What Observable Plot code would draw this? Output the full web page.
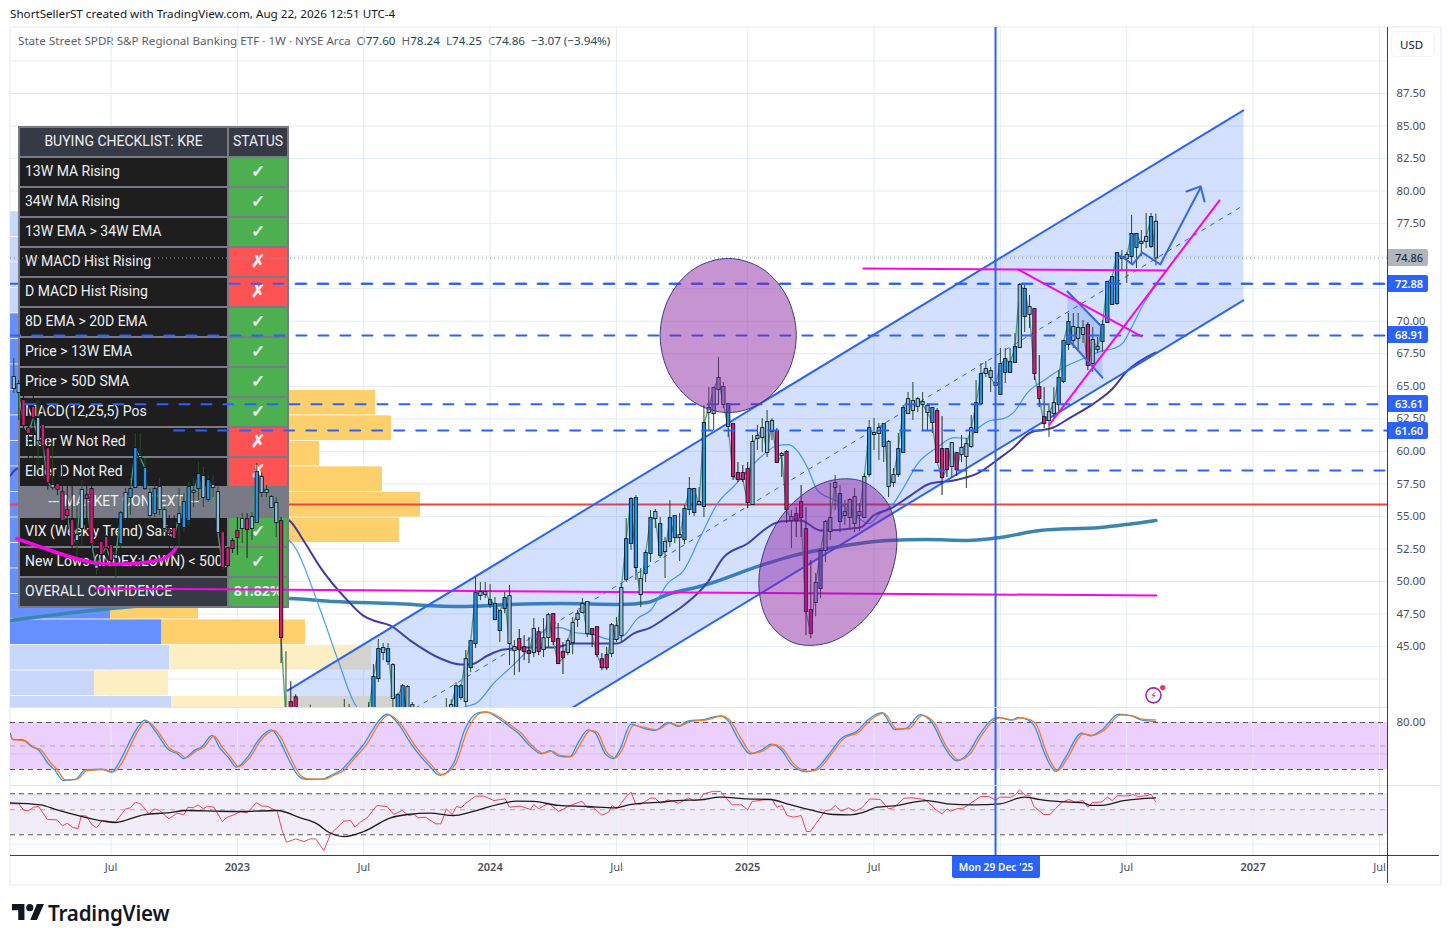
<!DOCTYPE html>
<html>
<head>
<meta charset="utf-8">
<script src="https://cdn.jsdelivr.net/npm/d3@7"></script>
<script src="https://cdn.jsdelivr.net/npm/@observablehq/plot@0.6"></script>
<style>
html,body{margin:0;padding:0;background:#fff;overflow:hidden}
#page{position:relative;width:1449px;height:943px;font-family:"Noto Sans",sans-serif;color:#131722;overflow:hidden}
.abs{position:absolute;white-space:pre}
.cell{position:absolute;height:28px;line-height:26.5px;font-family:Roboto,sans-serif;font-size:14px;color:#eceff4;box-sizing:border-box;white-space:pre}
.tag{position:absolute;left:1388px;width:40px;height:17px;line-height:17px;padding-left:2px;box-sizing:border-box;text-align:center;font-size:11px;font-weight:600;border-radius:0 2px 2px 0}
</style>
</head>
<body>
<div id="page"></div>
<script>
// ---------- weekly candles (price, USD) ----------
const opens=[
65.67,65.13,63.9,61.75,63.37,62.52,62,60.2,57.37,57.45,
56.83,55.45,54.68,53.15,54.07,56.6,57.07,51.2,53,53.38,
52.76,51.76,52.91,54.84,56.45,57.22,59.6,57.14,56.76,55.22,
55.53,55.45,53.91,54.07,54.45,54.15,54.68,56.91,57.14,58.07,
56.3,57.37,56.83,53.76,52.53,53.07,53.84,54.07,54.76,54.07,
54.53,57.99,56.99,56.45,56,54.61,40,40.69,41.07,38.6,
38.4,38.9,38.1,37.6,37,37.8,38.6,38.4,39.1,38.8,
38.5,39.4,39.2,39.3,40.31,42.54,44.54,43.85,43.54,39.92,
39.92,41.85,40.46,39.3,38.9,39.2,39,38.7,39.3,39.5,
39.9,40.31,41.08,40.77,43.38,45.23,48.92,49,48.23,47.07,
46.23,47.92,48.84,44.69,45.54,44.92,44.62,44.54,46.07,44.77,
45.69,47.46,45.54,44.54,44.54,45.3,47.07,47.61,48.38,46.31,
46.46,43.99,44.31,44.46,46.53,45.84,50.15,52.91,56.37,50.15,
50.61,52.15,55.3,54.38,53,53.07,54.99,53.53,53.22,55.53,
55.3,56.07,55.76,62.98,62.9,64.75,64.9,63.6,62.06,58.3,
58.3,58.6,55.91,60.99,61.06,62.21,61.52,61.52,59.76,59.91,
54.91,55.14,56.07,53.99,47.77,48.38,49.46,52.38,53.84,57.22,
56.68,55.07,54.91,56.45,55.07,54.91,58.22,61.37,61.37,60.37,
60.68,57.6,58.22,59.91,62.9,63.83,63.45,63.75,63.45,63.29,
63.06,60.14,60.14,58.83,59.83,59.76,59.6,60.37,61.45,63.67,
65.98,66.13,65.21,64.37,66.06,66.06,66.83,67.98,70.36,71.05,
70.9,64.9,62.6,62.37,62.9,63.6,65.37,68.21,69.52,68.67,
68.98,69.67,66.75,67.83,68.44,69.9,71.29,71.36,74.9,74.82,
74.97,75.67,76.05,76.13,75.74,77.6];
const closes=[
64.83,64.52,61.98,61.37,62.6,60.83,60.45,57.6,57.2,57.07,
54.68,55.07,52.76,53.53,56.99,56.37,52.9,51,52.07,52.61,
51.61,52,55.22,56.76,57.07,60.22,59.52,58.68,55.07,57.07,
57.22,54.07,53.68,53.3,55.14,56.07,57.22,56.83,58.22,56.45,
57.76,57.22,53.76,51.07,51.22,52.53,53.38,54.76,53.99,54.91,
58.37,56.83,56.83,55.68,54.53,45.69,39.3,39.7,38.55,38.2,
38.9,38.1,37.6,37,37.8,38.6,38.4,39.1,38.8,38.5,
39.4,39.2,39.8,39.9,42.62,44.77,44.85,44.77,41,41.23,
41.92,39.69,39.3,38.9,39.2,39,38.7,39.3,39.5,39.9,
40.47,41.92,41.92,44,45.38,49.07,49.15,49.15,48.53,48.23,
47.69,48.69,45.23,44.92,44.77,44.62,44.46,46.31,44.62,45.61,
47.38,45.38,43.69,44.15,45.38,46.77,47.46,48.23,46,45.92,
44.38,43.38,43.38,46.61,45.54,49.46,53.22,56.3,51.07,48.99,
52.15,54.84,54.84,52,52.3,54.84,53.38,53.38,55.53,57.07,
57.07,55.91,62.14,63.29,64.83,65.6,63.6,61.91,58.06,57.83,
57.83,56.07,60.68,61.14,61.75,59.91,62.29,59.14,59.68,55.53,
54.68,54.68,54.91,47.69,46,49.84,52.3,54.53,54.84,57.53,
54.61,55.3,56.22,54.45,55.3,57.99,61.75,61.29,61.75,62.06,
57.3,58.14,60.14,63.29,63.98,63.14,63.98,63.6,62.98,62.21,
59.14,57.99,58.6,60.6,58.6,60.22,60.52,61.75,63.67,65.9,
66.29,65.67,65.06,66.67,67.06,66.83,67.98,72.74,72.44,70.52,
65.98,64.06,62.14,62.98,63.67,65.6,68.44,69.9,68.52,69.44,
69.44,66.6,68.52,67.98,69.67,72.98,73.36,75.2,74.82,75.05,
76.67,76.67,75.97,76.43,77.97,74.86];
const highs=[
67.13,65.44,64.29,63.9,64.3,63.9,63.9,61,60.75,58.53,
58.9,57.76,57.76,55.84,57.76,57.37,57.76,51.84,53.15,53.53,
52.91,52.38,55.38,57.14,57.91,61.37,61.37,59.45,57.14,57.37,
57.91,55.68,55.07,55.07,57.14,56.76,57.6,57.91,59.14,58.76,
58.14,58.14,57.22,53.91,52.61,53.3,54.91,55.22,55.22,55.3,
59.07,58.37,57.37,56.6,56.45,54.91,44.61,42.3,41.3,39.4,
39.6,40.5,39.5,39.2,39.6,39.8,39.7,39.9,40.93,40.54,
39.9,39.9,39.8,40.69,43.62,45.54,45.23,45.23,43.69,41.38,
42.08,42,40.7,39.6,39.9,39.7,39.8,40,40.1,41,
40.9,42.23,42.08,44.69,45.46,50.3,49.92,49.92,49.76,48.77,
47.77,49.15,49.69,45.46,46.31,45.84,45.69,47.15,46.46,47.15,
47.53,47.53,46.77,45.31,45.61,47.23,47.77,48.69,48.38,46.38,
46.46,44.46,44.92,46.77,47.23,49.84,54.84,56.45,56.6,50.99,
52.38,55.45,55.53,54.91,53.38,56.22,55.07,55.22,55.84,57.99,
57.14,57.22,63.52,64.9,64.9,67.21,65.29,63.67,62.14,59.14,
58.91,59.14,61.22,61.98,62.52,63.14,62.52,61.75,59.91,60.06,
55.45,55.68,57.37,55.68,51.61,50.61,52.53,54.68,57.53,58.14,
57.37,56.22,56.37,57.14,56,58.3,62.37,62.52,62.14,62.14,
60.83,58.68,61.37,63.52,64.52,65.29,64.14,64.52,63.67,63.37,
63.29,62.68,60.22,60.68,59.91,61.22,60.99,62.75,65.44,66.75,
66.9,66.44,65.6,67.9,67.9,67.9,69.06,72.9,72.74,71.98,
70.98,67.36,64.9,63.67,64.9,66.21,68.52,70.59,70.59,70.59,
70.06,69.9,69.52,68.75,70.06,73.06,73.44,75.28,75.43,75.28,
78.13,76.75,76.97,78.28,78.28,78.24];
const lows=[
64.44,62.37,60.83,58.91,58.5,58.5,59.3,57,57,56.6,
54.53,53.9,52,51.6,52.76,53.9,52.53,50.46,50.84,50.69,
51,50.07,52.53,54.68,55.07,57.14,59.07,56.99,54.68,54.91,
55.07,53.76,52.38,52.53,52.53,53.76,54.3,55.68,56.22,55.68,
56.07,56.45,53.68,51,51.07,52.15,52,52.91,51.76,53.15,
54.45,56.45,56.45,55.6,53.38,43.69,38.5,38.55,37.5,37.4,
37.9,37.6,37,35.5,35.9,37.4,37.8,37.9,38.2,38,
38.1,38.6,38.7,38.2,39.9,42.23,43.92,43.54,40.31,39.3,
39.16,38.93,38.6,38.2,38.4,38.5,38.1,38.4,38.9,39.1,
39.5,39.93,40.85,40.39,43,44.85,48.53,48.69,47.92,46.99,
45.31,47.53,43.54,42.77,43,43.92,43.69,44.15,44.3,44.15,
44.92,45.08,43.69,42.85,44.3,44.38,46.46,47.53,45.69,44.92,
44.15,43.15,43.15,44.15,45.31,45.31,49.92,52.38,50.07,47.99,
49.92,51.46,54.07,51.76,50.23,52.61,52.91,51.53,52.84,55.07,
54.99,55.84,54.91,61.6,61.6,63.52,63.29,61.06,57.76,57.6,
57.6,55.6,55.84,60.06,59.91,59.52,60.83,59.07,57.99,54.45,
52.53,53.38,53.38,45.84,45.61,47.3,48.69,51.46,53.15,55.45,
53.76,54.3,53.99,53.76,53.84,54.84,57.99,60.06,59.3,59.14,
56.45,57.22,57.99,59.83,62.9,62.37,62.98,61.6,61.6,61.37,
59.07,56.6,57.99,57.99,58.06,59.14,57.14,60.22,61.37,63.67,
65.67,64.52,64.29,64.29,65.21,66.06,66.75,67.9,69.13,69.44,
65.44,63.37,61.75,61.06,62.52,62.98,65.21,67.75,67.9,67.75,
68.29,66.21,66.06,67.52,67.6,69.83,71.21,71.21,73.9,72.9,
74.28,74.05,74.97,75.59,75.59,74.25];
const impulse=("nnpppnppnp"+"pppnnppnpp"+"pnbnbbnbnb"+"nnppnbbnbn"+"bnnppppnpn"+"bnnnnpnppn"+"nnppnbnnnn"+"bnnbbbnbnb"+
"bnnnnnnnnn"+"nbbnbbnnbb"+"bbnnpppnpn"+"npppnnnnnp"+"pppnnnbbbn"+"bbnbnbbnbb"+"bnbnnnnbpp"+"ppnnnnnpnp"+
"nppppnbnnn"+"bnnnnnbnnb"+"nnbbnnnnnb"+"pppnpnnnbb"+"nnnbbbbnbn"+"pppnnbbbnn"+"npnnbbbbnn"+"bbnnbn").split("");

// ---------- moving averages: bar index, price ----------
const fastMaBar=[-0.7,1,30,56.7,63.1,66.6,70.7,85.7,92.5,95.4,98.7,102.2,105.7,109.8,112.5,115.2,119.3,122.8,125.5,128.3,131,134.5,137.8,141.3,144.8,148.1,153.6,157.1,159.4,161.5,163.3,165.4,169.5,173.6,175.9,178.3,181,183.1,186,190,193.4,196.2,198.3,201,203.6,205.7,208.6,211.9,216,220.1,224.2,226.3,228.3,230.4,232.5,235];
const fastMaVal=[63.6,64.4,57,53.15,47.77,44.07,40.31,37.7,40.31,40.7,42.16,43.38,44.69,46.38,46.46,46.08,45.92,45.54,45.84,47.15,47.77,49.84,50.84,53.45,55.99,57.3,59.53,60.45,60.52,59.91,58.76,56.99,56.14,54.91,54.45,55.22,55.99,57.22,59.06,60.29,61.06,60.99,61.75,62.37,62.52,62.98,64.52,65.44,66.44,67.13,67.75,67.9,68.36,69.82,71.36,72.74];
const midMaBar=[-0.7,0.8,30,56.7,59.6,63.1,68.7,71.9,74,77.5,81.6,87.8,91.9,94,97.5,100.8,105.7,111.1,115.2,119.3,124.2,127.5,131,134.5,137.8,142.7,146,151,155.7,157.8,161.9,166,174.2,176.9,180.4,184.5,188.6,193.4,198.3,203,205.5,209.2,213.9,217.4,222.2,225.7,229.2,235];
const midMaVal=[58.14,58.68,58,54.68,53.15,51.07,48.53,47.38,47,46.61,45.46,44.08,43.62,43.62,44.31,44.77,44.92,44.92,45.23,45.23,45.23,46,46.46,47.3,48.15,49.92,51.84,52.92,54.3,54.61,54.68,53.92,54.15,55.07,55.6,56.6,57.53,57.76,58.3,59.52,60.22,61.45,61.83,62.6,63.67,64.67,66.21,67.6];
const slowMaBar=[-0.7,19.9,56.7,65.8,78.1,91.9,102.2,112.5,124.8,130.3,134.5,141.9,153.6,160.4,168.7,179.8,188,196.2,203,211.2,223.6,235];
const slowMaVal=[47,47.92,48.69,48.46,48.3,48.07,48.23,48.3,48.23,48.38,49,49.69,51.22,51.99,52.61,53.15,53.22,53.15,53.38,53.92,54.15,54.68];

// ---------- volume profile rows (price bin edges, volume units) ----------
const vpBinLow=[76.51,74.55,72.59,70.63,68.67,66.71,64.75,62.79,60.83,58.87,56.91,54.95,52.99,51.03,49.07,47.11,45.15,43.19,41.23,39.27];
const vpBinSize=1.9;
const vpUp=[60,90,100,110,130,150,140,180,190,140,180,200,190,150,120,100,151,159,84,161];
const vpTotal=[100,160,190,210,240,260,270,365,381,309,372,410,389,270,260,188,295,361,158,388];
const vpInValueArea=[0,0,0,0,1,1,1,1,1,1,1,1,1,1,1,1,1,0,0,0];

// ---------- drawings: bar index, price ----------
const channelBar=[56.3,253], channelUpper=[41.62,86.2], channelMiddle=[34.3,78.9], channelLower=[27.01,71.6];
const levels=[72.88,68.91,63.61,61.60,58.53], levelStartBar=[44.4,-0.7,2.4,33,184.9];
const taggedLevels=[72.88,68.91,63.61,61.60];
const lastClose=74.86, redLevel=55.91, lineEndBar=282.86, crossBar=202;
const topLineBar=[174.8,237], topLineVal=[74.05,73.9];
const wedgeBar=[206.7,232], wedgeVal=[73.97,68.83];
const riseBar=[213.1,248.1], riseVal=[62.06,79.28];
const longLineBar=[16.8,235.1], longLineVal=[49.46,48.92];
const arcBar=[0.6,7.6,16.4,24.6,30.8,33.3], arcVal=[53.3,52.38,51.45,51.38,51.76,52.53];
const arrowBar=[227.7,230.2,232.2,235.9,244.2], arrowVal=[75.05,74.36,75.28,74.36,80.28];
const arrowHeadBar=[241.3,244.2,245], arrowHeadVal=[79.97,80.36,79.2];
const flagBar=[216.8,224,224,216.8], flagVal=[72.28,69.52,65.67,68.67];
const circleABar=[161,159.1,154,147,140,134.9,133,134.9,140,147,154,159.1];
const circleAVal=[68.9,71.86,74.03,74.82,74.03,71.86,68.9,65.94,63.77,62.98,63.77,65.94];
const circleBBar=[181.7,179.8,174.6,167.5,160.4,155.2,153.3,155.2,160.4,167.5,174.6,179.8];
const circleBVal=[53.12,49.8,46.93,45.28,45.3,46.97,49.86,53.18,56.06,57.7,57.69,56.01];
const iconBar=234.5, iconVal=41.25, iconDotBar=236.4, iconDotVal=41.85;

// ---------- stochastic panel ----------
const stochDBar=[-0.7,0,2.1,4.1,5.5,7.5,8.9,10.6,13,15.1,17.1,18.5,20.6,21.9,23.7,25.4,27.4,29.5,32.2,34.3,35.3,37.7,39.1,41.2,42.9,44.6,46.3,48.7,50.8,53.5,54.9,56.9,59,60.4,63.8,65.8,67.9,70.3,72.7,75.4,77.2,79.6,82.3,85.7,88.1,90.9,93.3,96,97.4,100.1,102.8,104.2,106.3,109,110.7,112.4,114.8,116.6,118.6,120,122,123.8,125.1,127.5,129.6,132.3,135.1,137.1,139.2,142.6,145.7,147.4,149.5,151.9,154.3,156.3,158.4,160.5,163.5,165.3,168,170.7,173.8,176.2,179,181.7,184.1,186.9,189.3,192,194.4,196.8,198.9,201.6,203,205.7,207.1,209.2,210.5,212.6,214.8,216.7,220.1,221.9,224.3,227.7,230.4,232.5,234.9];
const stochDVal=[63.4,57.9,57,48.5,45.5,29.3,20,6.8,7.6,18.7,19.5,20,17.4,25.1,46.4,67.7,81.7,69.8,46.4,40,34.9,44.2,48.5,62.5,48.5,35.7,23.8,36.6,57,69.8,61.3,35.7,12.3,8.1,7.6,12.3,18.7,35.7,52.8,80.4,89.8,78.3,52.8,27.2,13.6,27.2,69.8,91.9,93.2,86,74,67.7,52.8,40.8,43.4,37.9,36.6,52.8,69.8,67.7,42.1,34.9,44.2,76.2,74,70.6,79.1,75.7,81.3,83.4,88.1,82.6,61.3,40.8,44.2,51.9,45.1,27.2,17.8,19.5,37.9,59.1,67.7,82.6,91.9,71.9,71.9,89,80.4,48.5,32.3,40,61.3,82.6,86,83.4,86,83.4,76.2,40,18.7,33.6,65.5,63.4,69.8,89.8,88.1,83.8,83.4];
const stochKBar=[-0.7,-0.3,1.7,3.7,5.1,7,8.4,10.2,12.6,14.7,16.7,18,20.2,21.4,23.2,25,27,29,31.8,33.8,34.9,37.3,38.7,40.8,42.4,44.2,45.8,48.3,50.4,53,54.4,56.4,58.6,60,63.4,65.4,67.4,69.9,72.2,75,76.8,79.2,81.8,85.2,87.7,90.5,92.8,95.6,97,99.7,102.4,103.7,105.9,108.6,110.3,112,114.4,116.1,118.2,119.6,121.6,123.4,124.7,127,129.2,131.9,134.7,136.7,138.8,142.2,145.3,147,149,151.5,153.9,155.9,158,160,163.1,164.9,167.6,170.3,173.4,175.8,178.6,181.3,183.6,186.5,188.9,191.6,194,196.4,198.5,201.2,202.6,205.3,206.7,208.8,210,212.2,214.4,216.3,219.7,221.5,223.9,227.3,230,232.1,234.9];
const stochKVal=[66,58.5,58,49,45,28,19.5,6,7,19.5,20,20.5,16.5,26,47.5,69,83,70,45.5,39.5,34,45,49,63.5,47.5,35,23,37.5,58,70.5,60.5,35,11.5,7.5,7.5,13,19.5,36.5,54,81.5,90.5,77.5,52,26.5,12.5,28,71,92.5,93.5,85.5,73,67,52,40,44,37.5,36,54,70.5,67,41,34,45.5,78,73.5,70,80,75,82,84,88.5,82,60,40,45,52.5,44.5,26.5,17,20,38.5,60,68.5,83.5,92.5,71,72.5,90,80,47.5,31,41,62.5,83.5,86.5,83,86.5,83,75.5,39,17.5,34.5,66.5,63,70.5,90.5,88.5,83,81.5];
const stochBand=[20,80], stochMid=50, stochGrid=40;

// ---------- RSI panel ----------
const rsiBar=[-0.7,1,2.1,3.1,4.1,5.1,6.9,8.9,10,11,12,13.2,13.9,15,15.9,17,18.2,20.9,23,24,25,26.1,27.8,29,30,31.9,33.6,35,35.8,36.9,37.9,39,39.9,41.2,42.9,43.9,45.3,46.6,48,49.9,51.1,52.1,54.2,55.2,56.1,58,59.7,61,62.1,63.8,65.2,67.9,69.3,70.2,71.3,72.7,74.7,76.8,78.2,79.9,81.3,82.3,83.3,84.7,86.8,87.9,89,90.2,91.1,92,93.3,95,96.7,98.8,100.1,101.1,102,104.2,106.3,107,108,110,112.1,114.5,116.9,117.9,119.3,121,122.4,123.1,124.1,126.2,127,127.9,128.9,131,132,133,134.7,136.8,138.8,139.9,141.2,141.9,144,145.4,147.8,149.8,151,151.9,154.3,156,157,158.1,159.1,160.5,162,163.1,163.9,167,168,169,170.2,171.8,173,174.5,176.1,178.3,180,181,183.2,184.8,187.5,189.9,191,192,192.8,194,195.4,198.9,200.6,202,203,205.1,206.1,206.9,208.1,209,209.9,211.9,213.2,214.3,215.7,217.1,218.4,220,221,221.9,223.9,225,226,227,229.4,230.2,231.3,233.2,234,234.9];
const rsiVal=[60.2,60.2,53.7,53.7,56.9,57.6,44.9,44.6,38.7,41.3,37.4,35.8,48.8,48.2,40.7,36.8,43.9,42.3,55.3,56.3,61.8,60.2,50.4,55.3,53.7,45.6,51.1,49.5,56.9,56.3,59.2,55.3,57.9,56.9,42.9,47.2,49.5,52.7,51.4,61.2,57.9,57.9,53,34.2,22.8,26,23.4,26,26,14.7,30.9,43.3,43.9,37.4,42.3,46.5,58.6,57.6,49.8,53.7,48.8,49.8,46.5,47.2,40.7,40.7,55.3,49.8,57.6,56.3,61.8,67.7,67.7,63.4,64.4,65,56.9,57.9,54.7,59.5,55.3,60.8,52.7,58.6,62.8,56.9,56.3,49.1,52.1,58.6,55.3,68.3,71.6,60.8,59.5,65.7,65.7,60.8,64.1,60.8,66,63.4,64.4,69.9,72.5,72.2,59.2,59.2,54.3,62.5,64.1,64.7,56.9,58.6,48.8,47.2,48.8,33.2,33.2,53.7,54.3,58.6,53,56.3,53,56.3,65,64.4,55.3,56.3,65.7,66,64.4,53.7,50.4,55.3,53,55.3,56,67.3,67.3,64.1,66.7,66.7,69,73.8,68.6,68.6,57.6,49.8,49.8,55.3,61.8,64.4,61.8,63.4,56.9,61.2,62.1,66.7,63.4,68,68,69.3,67.3,68.3,69.6,62.5];
const rsiMaBar=[-0.7,5.5,8.9,13.7,18.5,20.9,23.3,26.7,31.5,35.7,41.8,46.6,54.2,59,62.4,64.8,67.9,72,77.5,81,85.7,90.5,94,100.1,103.5,107,112.1,117.9,123.8,126.8,133,136.5,141.2,145.4,150.8,155.7,159.1,163.9,168.7,172.1,174.9,177.6,181,187.9,192,197.5,203,207.8,211.2,214.7,220.1,221.5,223.6,228.4,234.9];
const rsiMaVal=[61.2,59.2,54.3,48.2,43.3,42,44.6,49.5,51.4,53.7,53,52.7,53.7,46.5,40.7,32.5,28.3,33.2,46.5,49.8,51.1,48.8,52.1,60.2,62.8,62.5,58.6,57.6,56.3,59.5,61.8,63.4,64.1,66.7,65,64.4,60.2,54.3,49.8,49.5,52.1,56.9,58.2,63.4,60.2,59.2,60.2,66.7,64.4,62.5,61.2,58.6,58.6,63.4,66];
const rsiBand=[30,70], rsiMid=54.4, rsiGrid=20.8;

// ---------- axes and table text ----------
const priceTicks=[45,47.5,50,52.5,55,57.5,60,62.5,65,67.5,70,72.5,75,77.5,80,82.5,85,87.5];
const priceLabelTicks=[45,47.5,50,52.5,55,57.5,60,62.5,65,67.5,70,77.5,80,82.5,85,87.5];
const gridPrices=[42.5,...priceTicks,90];
const julyDates=["2022-07-04","2023-07-03","2024-07-01","2025-07-07","2026-07-06","2027-07-05"].map(d=>new Date(d));
const yearDates=["2023-01-02","2024-01-01","2025-01-06","2027-01-04"].map(d=>new Date(d));
const yearLabels=["2023","2024","2025","2027"];
const gridDates=[...julyDates,...yearDates,new Date("2026-01-05")];
const tableRows=[["13W MA Rising",1],["34W MA Rising",1],["13W EMA > 34W EMA",1],["W MACD Hist Rising",0],["D MACD Hist Rising",0],["8D EMA > 20D EMA",1],["Price > 13W EMA",1],["Price > 50D SMA",1],["MACD(12,25,5) Pos",1],["Elder W Not Red",0],["Elder D Not Red",0],["--- MARKET CONTEXT ---",2],["VIX (Weekly Trend) Safe",1],["New Lows (INDEX:LOWN) < 500",1],["OVERALL CONFIDENCE",3]];
const confidence="81.82%";

if([opens,closes,highs,lows,impulse].some(a=>a.length!==236)) throw new Error("bar count "+[opens,closes,highs,lows,impulse].map(a=>a.length));

// ---------- helpers ----------
const page=document.getElementById("page");
const barDate=i=>new Date(Date.UTC(2022,1,14)+i*7*864e5);
const xDomain=[barDate(-0.68),barDate(282.86)];
const FONT='"Noto Sans",sans-serif';
const pts=(b,v)=>b.map((d,i)=>({d:barDate(d),v:v[i]}));
const bars=opens.map((o,i)=>({d:barDate(i),o,c:closes[i],h:highs[i],l:lows[i],k:impulse[i],hi:Math.max(o,closes[i]),lo:Math.min(o,closes[i])}));
const gridC="#e4ecf3";
function panel(marks,{top,height,yDomain,marginBottom=0,marginTop=0,xLinear}){
  const svg=Plot.plot({width:1449,height,marginLeft:10,marginRight:61,marginTop,marginBottom,
    x:xLinear?{domain:[0,1378],axis:null,label:null}:{type:"utc",domain:xDomain,axis:null,label:null},
    y:{domain:yDomain,axis:null,label:null},
    style:{background:"transparent",fontFamily:FONT,fontSize:"12px",position:"absolute",left:"0px",top:top+"px",overflow:"visible",maxWidth:"none"},
    marks});
  page.appendChild(svg);return svg;
}
function addDiv(css,text,cls){const e=document.createElement("div");e.className=cls||"abs";e.style.cssText=css;if(text!=null)e.textContent=text;page.appendChild(e);return e;}
const line=(b,v,o)=>Plot.line(pts(b,v),{x:"d",y:"v",clip:true,...o});
const MAIN={top:0,height:708,marginTop:27,yDomain:[40.24,92.57]};
const DASH={stroke:"#2962ff",strokeWidth:2,strokeDasharray:"10 12"};

// frame
addDiv("left:9px;top:26px;width:1429px;height:856px;border:2px solid #f0f3fa;box-sizing:content-box");

// header
addDiv("left:10px;top:6px;font-size:11.65px;color:#131722","ShortSellerST created with TradingView.com, Aug 22, 2026 12:51 UTC-4");
const info=addDiv("left:18px;top:33px;font-size:11.65px;color:#5d606b");
info.innerHTML='State Street SPDR S&amp;P Regional Banking ETF · 1W · NYSE Arca  O<span style="color:#1b4a50">77.60</span>  H<span style="color:#1b4a50">78.24</span>  L<span style="color:#1b4a50">74.25</span>  C<span style="color:#1b4a50">74.86</span>  <span style="color:#1b4a50">−3.07 (−3.94%)</span>';

// grid layer
panel([
  Plot.ruleY(gridPrices,{stroke:gridC,clip:true}),
  Plot.ruleX(gridDates,{stroke:gridC})
],MAIN);

// volume profile layer
const vpRows=vpBinLow.map((low,i)=>({low,high:low+vpBinSize,up:vpUp[i],total:vpTotal[i],on:vpInValueArea[i]}));
panel([
  Plot.rect(vpRows,{x1:0,x2:"up",y1:"low",y2:"high",fill:d=>d.on?"#6690ff":"#c8d8fc",clip:true}),
  Plot.rect(vpRows,{x1:"up",x2:"total",y1:"low",y2:"high",fill:d=>d.on?"#fdd06c":"#fdeec4",clip:true})
],{...MAIN,xLinear:true});

// moving averages and the red level sit under the table
panel([
  Plot.ruleY([redLevel],{stroke:"#f44336",strokeWidth:2,clip:true}),
  line(slowMaBar,slowMaVal,{stroke:"#3b86ae",strokeWidth:3.5,curve:"monotone-x"}),
  line(fastMaBar,fastMaVal,{stroke:"#42a5f5",strokeWidth:1.2,curve:"monotone-x"}),
  line(midMaBar,midMaVal,{stroke:"#43389f",strokeWidth:2,curve:"monotone-x"}),
  line([-0.7,lineEndBar],[levels[0],levels[0]],DASH)
],MAIN);

// checklist table
addDiv("left:18px;top:126px;width:271px;height:482px;background:#787b86");
addDiv("left:20px;top:128px;width:207px;text-align:center;background:#363a45","BUYING CHECKLIST: KRE","cell");
addDiv("left:229px;top:128px;width:58px;text-align:center;background:#363a45","STATUS","cell");
tableRows.forEach(([label,state],r)=>{
  const t=158+30*r;
  if(state===2){
    addDiv(`left:20px;top:${t}px;width:207px;text-align:center;background:#787b86`,label,"cell");
    return;
  }
  addDiv(`left:20px;top:${t}px;width:207px;padding-left:5px;background:${state===3?"#363a45":"#1e1e1e"}`,label,"cell");
  const bg=state===0?"#ff5252":"#4caf50";
  const sym=state===3?confidence:state===1?"✓":"✗";
  addDiv(`left:229px;top:${t}px;width:58px;text-align:center;background:${bg};font-weight:700;font-family:${state===3?'inherit':'DejaVu Sans'};font-size:${state===3?14:17}px;${state===3?'':'-webkit-text-stroke:.5px #fff'}`,sym,"cell");
});

// candles, drawings, price axis
const candleColor={b:"#2196e8",p:"#e5166e",n:"#8fbdd6"};
const main=panel([
  Plot.axisY({anchor:"right",ticks:priceLabelTicks,tickSize:0,tickPadding:8,tickFormat:d=>d.toFixed(2),fill:"#4c4f57",fontSize:11.4,label:null}),
  Plot.line(pts([channelBar[0],channelBar[1],channelBar[1],channelBar[0]],[channelUpper[0],channelUpper[1],channelLower[1],channelLower[0]]),{x:"d",y:"v",curve:"linear-closed",fill:"rgba(41,98,255,.2)",stroke:"none",clip:true}),
  line(flagBar,flagVal,{fill:"rgba(41,98,255,.2)",stroke:"none",curve:"linear-closed"}),
  line(longLineBar,longLineVal,{stroke:"#f805e8",strokeWidth:2}),
  line(channelBar,channelMiddle,{stroke:"#2962ff",strokeWidth:1,strokeDasharray:"4 6"}),
  line(channelBar,channelUpper,{stroke:"#2962ff",strokeWidth:2}),
  line(channelBar,channelLower,{stroke:"#2962ff",strokeWidth:2}),
  Plot.line(closes.map((c,i)=>({d:barDate(i),v:c})),{x:"d",y:"v",stroke:"#4f9d7c",strokeWidth:1.3,clip:true}),
  Plot.ruleX(bars,{x:"d",y1:"l",y2:"h",stroke:d=>d.k==="p"?"#1d1d1d":"#234d20",strokeWidth:1,clip:true}),
  Plot.ruleX(bars,{x:"d",y1:d=>d.lo-0.07,y2:d=>d.hi+0.07,stroke:"#0d1b2a",strokeWidth:4.2,clip:true}),
  Plot.ruleX(bars,{x:"d",y1:"lo",y2:"hi",stroke:d=>candleColor[d.k],strokeWidth:2.4,clip:true}),
  Plot.ruleY([lastClose],{stroke:"#9598a1",strokeWidth:1,strokeDasharray:"1 3",clip:true}),
  ...levels.map((lv,i)=>line([levelStartBar[i],lineEndBar],[lv,lv],DASH)),
  line(circleABar,circleAVal,{curve:"catmull-rom-closed",fill:"rgba(136,28,160,.47)",stroke:"#3d3a80",strokeWidth:1}),
  line(circleBBar,circleBVal,{curve:"catmull-rom-closed",fill:"rgba(136,28,160,.47)",stroke:"#3d3a80",strokeWidth:1}),
  line(flagBar.slice(0,2),flagVal.slice(0,2),{stroke:"#3567dd",strokeWidth:2}),
  line(flagBar.slice(2),flagVal.slice(2),{stroke:"#3567dd",strokeWidth:2}),
  line(topLineBar,topLineVal,{stroke:"#f805e8",strokeWidth:2}),
  line(wedgeBar,wedgeVal,{stroke:"#f805e8",strokeWidth:2}),
  line(riseBar,riseVal,{stroke:"#f805e8",strokeWidth:2}),
  line(arcBar,arcVal,{stroke:"#f805e8",strokeWidth:3.5,curve:"natural"}),
  line(arrowBar,arrowVal,{stroke:"#3567ea",strokeWidth:2}),
  line(arrowHeadBar,arrowHeadVal,{stroke:"#3567ea",strokeWidth:2}),
  Plot.dot([{d:barDate(iconBar),v:iconVal}],{x:"d",y:"v",r:7.5,fill:"#fff",stroke:"#9c27b0",strokeWidth:1.6}),
  Plot.text([{d:barDate(iconBar),v:iconVal}],{x:"d",y:"v",text:()=>"⚡",fill:"#9c27b0",fontSize:10,fontFamily:"DejaVu Sans"}),
  Plot.dot([{d:barDate(iconDotBar),v:iconDotVal}],{x:"d",y:"v",r:2.6,fill:"#f23645"}),
  Plot.ruleX([barDate(crossBar)],{stroke:"#2962ff",strokeWidth:2})
],MAIN);

// stochastic panel
panel([
  Plot.rect([{a:stochBand[0],b:stochBand[1]}],{y1:"a",y2:"b",fill:"#ebd0fd"}),
  Plot.ruleX(gridDates,{stroke:gridC}),
  Plot.ruleY([stochGrid],{stroke:"#d5c0f0"}),
  Plot.ruleY(stochBand,{stroke:"#555",strokeDasharray:"5 4"}),
  Plot.ruleY([stochMid],{stroke:"#a9a9b5",strokeDasharray:"5 5"}),
  line(stochKBar,stochKVal,{stroke:"#2196f3",strokeWidth:1.3,curve:"monotone-x"}),
  line(stochDBar,stochDVal,{stroke:"#f57c1f",strokeWidth:1.3,curve:"monotone-x"}),
  Plot.axisY({anchor:"right",ticks:[80],tickSize:0,tickPadding:8,tickFormat:d=>d.toFixed(2),fill:"#4c4f57",fontSize:11.4,label:null}),
  Plot.ruleX([barDate(crossBar)],{stroke:"#2962ff",strokeWidth:2})
],{top:708,height:77,yDomain:[-0.43,97.87]});

// RSI panel and time axis
panel([
  Plot.rect([{a:rsiBand[0],b:rsiBand[1]}],{y1:"a",y2:"b",fill:"#f0ecf8"}),
  Plot.ruleX(gridDates,{stroke:gridC}),
  Plot.ruleY([rsiGrid],{stroke:gridC}),
  Plot.ruleY(rsiBand,{stroke:"#555",strokeDasharray:"5 4"}),
  Plot.ruleY([rsiMid],{stroke:"#a9a9b5",strokeDasharray:"5 5"}),
  line(rsiBar,rsiVal,{stroke:"#f0455a",strokeWidth:1}),
  line(rsiMaBar,rsiMaVal,{stroke:"#1a1a1a",strokeWidth:1.3,curve:"monotone-x"}),
  Plot.axisX({ticks:julyDates,tickSize:0,tickPadding:8,tickFormat:()=>"Jul",fill:"#4c4f57",fontSize:11,label:null}),
  Plot.axisX({ticks:yearDates,tickSize:0,tickPadding:8,tickFormat:d=>yearLabels[yearDates.findIndex(y=>+y===+d)],fill:"#4c4f57",fontSize:11,fontWeight:600,label:null}),
  Plot.ruleX([barDate(crossBar)],{stroke:"#2962ff",strokeWidth:2})
],{top:786,height:97,marginBottom:28,yDomain:[9.8,77.1]});

// chrome
addDiv("left:10px;top:707px;width:1378px;height:1px;background:#e0e3eb");
addDiv("left:10px;top:785px;width:1429px;height:1px;background:#e0e3eb");
addDiv("left:10px;top:855px;width:1429px;height:1px;background:#3c3f48");
addDiv("left:1387px;top:27px;width:1px;height:856px;background:#3c3f48");
addDiv("left:1391px;top:31px;width:44px;height:26px;line-height:26px;padding-left:8px;border:1px solid #f0f3fa;border-radius:4px;box-sizing:border-box;font-size:11.5px;color:#131722;background:#fff","USD");

// price tags and crosshair date label from the scales
const yScale=main.scale("y"), xScale=main.scale("x");
const tagY=v=>yScale.apply(v)-8.5;
addDiv(`top:${tagY(lastClose)}px;background:#b2b5be;color:#131722;font-weight:400`,lastClose.toFixed(2),"tag");
taggedLevels.forEach(v=>addDiv(`top:${tagY(v)}px;background:#2962ff;color:#fff`,v.toFixed(2),"tag"));
const cx=xScale.apply(barDate(crossBar));
addDiv(`left:${cx-43}px;top:856px;width:88px;height:22px;line-height:22px;background:#2962ff;color:#fff;text-align:center;font-size:10.2px;font-weight:600;border-radius:0 0 2px 2px`,"Mon 29 Dec '25");

// logo
const logo=addDiv("left:12px;top:904px;width:32px;height:18px");
logo.innerHTML='<svg width="32" height="18" viewBox="0 0 36 20"><path d="M14 18H7V7H0V0h14z M28 18h-7.5L28 0h8z" fill="#131722"/><circle cx="20" cy="4" r="4" fill="#131722"/></svg>';
addDiv("left:48px;top:899px;font-size:20.6px;font-weight:600;color:#131722;letter-spacing:-.2px","TradingView");
</script>
</body>
</html>
